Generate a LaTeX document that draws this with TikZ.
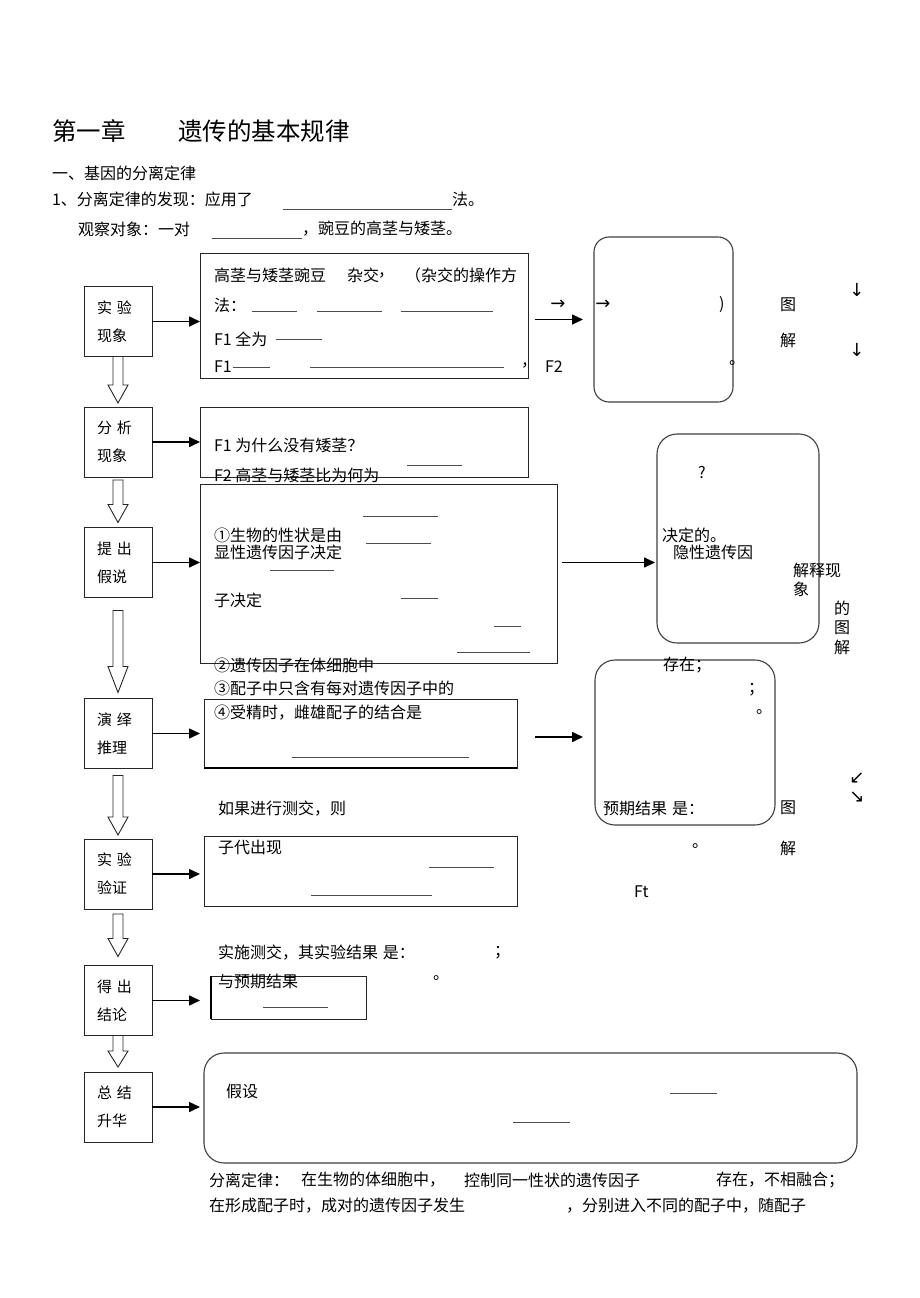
\documentclass[tikz,border=0pt]{standalone}
\usepackage{fontspec}
\setmainfont{Noto Sans CJK SC}
\newfontfamily\dejavu{DejaVu Sans}
\usetikzlibrary{arrows.meta,calc}
\begin{document}
\begin{tikzpicture}[x=1pt,y=-1pt,
  every node/.style={inner sep=0pt, outer sep=0pt},
  tx/.style={anchor=west, font=\fontsize{16}{16}\selectfont},
  ttl/.style={anchor=west, font=\fontsize{24.5}{24.5}\selectfont},
  lab/.style={draw=black!85, line width=0.9pt, minimum width=68pt, minimum height=70pt, text width=42pt, align=left, font=\fontsize{15}{28}\selectfont},
  box/.style={draw=black!85, line width=0.9pt},
  rbox/.style={draw=black!75, line width=1.1pt, rounded corners=16pt},
  blank/.style={draw=black!70, line width=0.8pt},
  conn/.style={draw, line width=1.6pt, -{Triangle[length=11pt,width=10pt]}},
  hollow/.style={draw=black!85, line width=0.9pt, fill=white, to path={let \p1=(\tikztostart), \p2=(\tikztotarget) in (\x1-5pt,\y1) -- (\x1-5pt,\y2+#1) -- (\x1-10pt,\y2+#1) -- (\x1,\y2) -- (\x1+10pt,\y2+#1) -- (\x1+5pt,\y2+#1) -- (\x1+5pt,\y1) -- cycle}},
  hollow/.default=18pt,
  sm/.style={anchor=center, font=\dejavu\fontsize{18}{18}\selectfont}
]
\fill[white] (0,0) rectangle (920,1298);
\useasboundingbox (0,0) rectangle (920,1298);

% header
\node[ttl] (ti1) at (52,131) {第一章};
\node[ttl] (ti2) at (178,131) {遗传的基本规律};
\node[tx] (h1) at (52,173) {一、基因的分离定律};
\node[tx] (h2) at (52,199) {1、分离定律的发现：应用了};
\draw[blank] (283,209) -- (452,209);
\node[tx] (h3) at (452,199) {法。};
\node[tx] (h4) at (78,229) {观察对象：一对};
\draw[blank] (212,238) -- (302,238);
\node[tx] (h5) at (302,229) {，豌豆的高茎与矮茎。};

% left column
\node[lab] (b1) at (118,321.5) {实\hspace{5pt}验\\现象};
\node[lab] (b2) at (118,442) {分\hspace{5pt}析\\现象};
\node[lab] (b3) at (118,562.5) {提\hspace{5pt}出\\假说};
\node[lab] (b4) at (118,733.5) {演\hspace{5pt}绎\\推理};
\node[lab] (b5) at (118,874) {实\hspace{5pt}验\\验证};
\node[lab] (b6) at (118,1000.5) {得\hspace{5pt}出\\结论};
\node[lab] (b7) at (118,1107) {总\hspace{5pt}结\\升华};

\draw[hollow] ($(b1.south)+(0,0)$) to ($(b2.north)+(0,-4)$);
\draw[hollow] ($(b2.south)+(0,3)$) to ($(b3.north)+(0,-5)$);
\draw[hollow=26pt] ($(b3.south)+(0,13)$) to ($(b4.north)+(0,-6)$);
\draw[hollow] ($(b4.south)+(0,7)$) to ($(b5.north)+(0,-4)$);
\draw[hollow] ($(b5.south)+(0,5)$) to ($(b6.north)+(0,-9)$);
\draw[hollow=16pt] ($(b6.south)+(0,0)$) to ($(b7.north)+(0,-5)$);

% right boxes
\node[box, minimum width=328pt, minimum height=125pt] (r1) at (364,315.5) {};
\node[box, minimum width=328pt, minimum height=70pt] (r2) at (364,442) {};
\node[box, minimum width=357pt, minimum height=179pt] (r3) at (378.5,573.5) {};
\node[box, minimum width=313pt, minimum height=69pt] (r4) at (360.5,733.5) {};
\node[box, minimum width=313pt, minimum height=70pt] (r5) at (360.5,871) {};
\node[box, minimum width=155pt, minimum height=43pt] (r6) at (288.5,997.5) {};
\node[rbox, rounded corners=20pt, minimum width=653pt, minimum height=110pt] (r7) at (530.5,1108) {};
\draw[line width=1.6pt] (r4.south west) -- (r4.south east);
\draw[line width=1.8pt] (r6.north west) -- (r6.south west);

\node[rbox, rounded corners=15pt, minimum width=139pt, minimum height=165pt] (q1) at (663.5,319.5) {};
\node[rbox, rounded corners=20pt, minimum width=162pt, minimum height=209pt] (q2) at (738,538.5) {};
\node[rbox, rounded corners=20pt, minimum width=180pt, minimum height=165pt] (q3) at (685,742.5) {};

% connectors left -> right
\draw[conn] (b1.east) -- ($(b1.east -| r1.west)$);
\draw[conn] (b2.east) -- ($(b2.east -| r2.west)$);
\draw[conn] (b3.east) -- ($(b3.east -| r3.west)$);
\draw[conn] (b4.east) -- ($(b4.east -| r4.west)+(-4,0)$);
\draw[conn] (b5.east) -- ($(b5.east -| r5.west)+(-4,0)$);
\draw[conn] (b6.east) -- ($(b6.east -| r6.west)+(-11,0)$);
\draw[conn] (b7.east) -- ($(b7.east -| r7.west)+(-4,0)$);

\draw[conn] ($(r1.east |- q1.west)+(7,0)$) -- ($(q1.west)+(-11,0)$);
\draw[conn] ($(r3.east |- b3.east)+(5,0)$) -- ($(q2.west |- b3.east)+(-2,0)$);
\draw[conn] ($(r4.east)+(18,3.5)$) -- ($(q3.west |- r4.east)+(-12,3.5)$);

% box 1 text
\node[tx] (t11) at (214,275) {高茎与矮茎豌豆};
\node[tx] (t12) at (347,275) {杂交};
\node[tx] (t13) at (378,275) {，};
\node[tx] (t14) at (405,275) {（杂交的操作方};
\node[tx] (t15) at (214,305) {法：};
\draw[blank] (252,311) -- (297,311);
\draw[blank] (317,311) -- (382,311);
\draw[blank] (401,311) -- (493,311);
\node[tx] (t16) at (214,339) {F1 全为};
\draw[blank] (276,339) -- (322,339);
\node[tx] (t17) at (214,367) {F1};
\draw[blank] (233,367) -- (270,367);
\draw[blank] (310,367) -- (504,367);
\node[tx] (t18) at (521,365) {，};
\node[tx] (t19) at (545,367) {F2};
\node[sm] (s1) at (558,305) {→};
\node[sm] (s2) at (603,305) {→};
\node[tx] (t1a) at (719,305) {)};
\node[tx] (t1b) at (729,363) {。};
\node[tx] (t1c) at (780,305) {图};
\node[tx] (t1d) at (780,340) {解};
\node[sm] (s3) at (857,290) {↓};
\node[sm] (s4) at (857,350) {↓};

% box 2 text
\node[tx] (t21) at (214,445) {F1 为什么没有矮茎？};
\draw[blank] (407,465) -- (462,465);
\node[tx] (t22) at (214,475) {F2 高茎与矮茎比为何为};

% box 3 text
\draw[blank] (363,516) -- (438,516);
\node[tx] (t31) at (214,535) {①生物的性状是由};
\draw[blank] (366,543) -- (431,543);
\node[tx] (t32) at (214,552) {显性遗传因子决定};
\draw[blank] (270,570) -- (334,570);
\node[tx] (t33) at (214,600) {子决定};
\draw[blank] (401,598) -- (438,598);
\draw[blank] (494,626) -- (521,626);
\draw[blank] (457,652) -- (530,652);
\node[tx] (t34) at (214,665) {②遗传因子在体细胞中};
\node[tx] (t35) at (214,688) {③配子中只含有每对遗传因子中的};

% q2 text
\node[tx] (t41) at (698,473) {?};
\node[tx] (t42) at (662,535) {决定的。};
\node[tx] (t43) at (673,552) {隐性遗传因};
\node[tx] (t44) at (793,570) {解释现};
\node[tx] (t45) at (793,589) {象};
\node[tx] (t46) at (834,608) {的};
\node[tx] (t47) at (834,628) {图};
\node[tx] (t48) at (834,647) {解};

% box 4 / q3 text
\node[tx] (t51) at (663,665) {存在；};
\node[tx] (t52) at (214,713) {④受精时，雌雄配子的结合是};
\draw[blank] (292,757) -- (469,757);
\node[tx] (t53) at (748,690) {；};
\node[tx] (t54) at (756,712) {。};
\node[tx] (t55) at (218,809) {如果进行测交，则};
\node[tx] (t56) at (603,808) {预期结果\hspace{5pt}是：};
\node[tx] (t57) at (780,808) {图};
\node[tx] (t58) at (780,848) {解};
\node[tx] (t59) at (692,846) {。};
\node[tx] (t5a) at (634,892) {Ft};
\node[sm] (s5) at (857,778) {↙};
\node[sm] (s6) at (857,797) {↘};

% box 5 text
\node[tx] (t61) at (218,847) {子代出现};
\draw[blank] (429,867) -- (494,867);
\draw[blank] (311,895) -- (432,895);
\node[tx] (t62) at (218,953) {实施测交，其实验结果\hspace{5pt}是：};
\node[tx] (t63) at (494,953) {；};
\node[tx] (t64) at (218,981) {与预期结果};
\node[tx] (t65) at (433,978) {。};
\draw[blank] (263,1007) -- (328,1007);

% box 7 text
\node[tx] (t71) at (226,1091) {假设};
\draw[blank] (670,1093) -- (717,1093);
\draw[blank] (513,1122) -- (570,1122);

% bottom text
\node[tx] (t81) at (209,1180) {分离定律：};
\node[tx] (t82) at (301,1180) {在生物的体细胞中，};
\node[tx] (t83) at (464,1180) {控制同一性状的遗传因子};
\node[tx] (t84) at (716,1180) {存在，不相融合；};
\node[tx] (t85) at (209,1206) {在形成配子时，成对的遗传因子发生};
\node[tx] (t86) at (566,1206) {，分别进入不同的配子中，随配子};
\end{tikzpicture}
\end{document}
